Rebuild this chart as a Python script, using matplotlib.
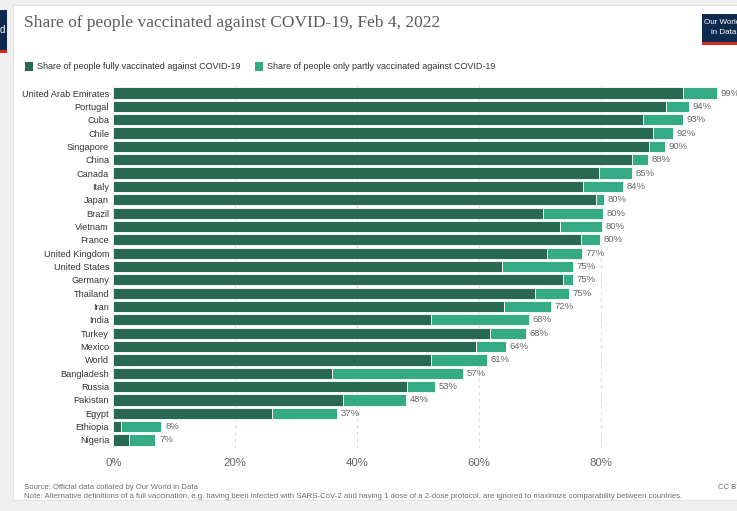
import matplotlib
matplotlib.use("Agg")
import matplotlib.pyplot as plt
from matplotlib.patches import Rectangle

# Daten
countries = ["United Arab Emirates", "Portugal", "Cuba", "Chile", "Singapore", "China",
             "Canada", "Italy", "Japan", "Brazil", "Vietnam", "France", "United Kingdom",
             "United States", "Germany", "Thailand", "Iran", "India", "Turkey", "Mexico",
             "World", "Bangladesh", "Russia", "Pakistan", "Egypt", "Ethiopia", "Nigeria"]
fully = [93.4, 90.6, 86.9, 88.5, 87.8, 85.0, 79.6, 77.0, 79.2, 70.4, 73.3, 76.6, 71.1,
         63.8, 73.7, 69.2, 64.0, 52.0, 61.7, 59.5, 52.1, 35.9, 48.1, 37.6, 26.0, 1.3, 2.5]
total = [99.0, 94.3, 93.4, 91.8, 90.4, 87.7, 85.1, 83.6, 80.4, 80.2, 80.1, 79.8, 76.8,
         75.4, 75.3, 74.7, 71.8, 68.1, 67.6, 64.3, 61.3, 57.4, 52.7, 48.0, 36.7, 7.9, 6.9]
total_labels = ["99%", "94%", "93%", "92%", "90%", "88%", "85%", "84%", "80%", "80%",
                "80%", "80%", "77%", "75%", "75%", "75%", "72%", "68%", "68%", "64%",
                "61%", "57%", "53%", "48%", "37%", "8%", "7%"]
xticks = [0, 20, 40, 60, 80]
xtick_labels = ["0%", "20%", "40%", "60%", "80%"]

partly = [t - f for t, f in zip(total, fully)]

dunkel = "#2a6951"
hell = "#34ab84"
sans = ["Liberation Sans", "DejaVu Sans"]

W, H = 737, 511
fig = plt.figure(figsize=(W / 100, H / 100), dpi=100)
fig.patch.set_facecolor("#f0f0f0")

# weisser Hintergrund-Bereich
fig.patches.append(Rectangle((13 / W, 1 - 500 / H), 1, (500 - 5) / H,
                             transform=fig.transFigure, facecolor="white",
                             edgecolor="#e4e4e4", lw=0.8, zorder=-5))
# Logo-Reste links und rechts
fig.patches.append(Rectangle((0, 1 - 50 / H), 7 / W, 40 / H, transform=fig.transFigure,
                             facecolor="#0f2a4f", zorder=-4))
fig.patches.append(Rectangle((0, 1 - 53 / H), 7 / W, 3 / H, transform=fig.transFigure,
                             facecolor="#d42b21", zorder=-4))
fig.text(0 / W, 1 - 30 / H, "d", color="white", fontsize=7, family=sans, va="center")
fig.patches.append(Rectangle((702 / W, 1 - 42 / H), 40 / W, 28 / H, transform=fig.transFigure,
                             facecolor="#0f2a4f", zorder=-4))
fig.patches.append(Rectangle((702 / W, 1 - 45 / H), 40 / W, 3 / H, transform=fig.transFigure,
                             facecolor="#d42b21", zorder=-4))
fig.text(704 / W, 1 - 22 / H, "Our World", color="white", fontsize=5.8, family=sans, va="center")
fig.text(711 / W, 1 - 33 / H, "in Data", color="white", fontsize=5.8, family=sans, va="center")

# Titel
fig.text(24 / W, 1 - 23 / H, "Share of people vaccinated against COVID-19, Feb 4, 2022",
         family=["Liberation Serif", "DejaVu Serif"], fontsize=12.5, color="#5b5b5b", va="center")

# Legende
fig.patches.append(Rectangle((25 / W, 1 - 71 / H), 8 / W, 9 / H, transform=fig.transFigure,
                             facecolor=dunkel))
fig.text(37 / W, 1 - 66.5 / H, "Share of people fully vaccinated against COVID-19",
         family=sans, fontsize=6.5, color="#333333", va="center")
fig.patches.append(Rectangle((255 / W, 1 - 71 / H), 8 / W, 9 / H, transform=fig.transFigure,
                             facecolor=hell))
fig.text(267 / W, 1 - 66.5 / H, "Share of people only partly vaccinated against COVID-19",
         family=sans, fontsize=6.5, color="#333333", va="center")

# Achse
ax = fig.add_axes([113.3 / W, 1 - 448 / H, (723.3 - 113.3) / W, (448 - 85) / H])
ax.set_facecolor("none")
y = list(range(len(countries)))
ax.barh(y, fully, height=0.84, color=dunkel, edgecolor="white", linewidth=0.6, zorder=2)
ax.barh(y, partly, left=fully, height=0.84, color=hell, edgecolor="white", linewidth=0.6, zorder=2)
for yi, t, lab in zip(y, total, total_labels):
    ax.text(t + 0.6, yi, lab, va="center", ha="left", family=sans, fontsize=6.8,
            color="#666666", clip_on=False)

ax.set_xlim(0, 100)
ax.set_ylim(len(countries) - 0.4, -0.6)
ax.set_yticks(y)
ax.set_yticklabels(countries, family=sans, fontsize=6.6, color="#333333")
ax.set_xticks(xticks)
ax.set_xticklabels(xtick_labels, family=sans, fontsize=8.2, color="#666666")
ax.tick_params(axis="both", length=0)
ax.tick_params(axis="x", pad=7)
ax.tick_params(axis="y", pad=3)
ax.grid(axis="x", color="#dddddd", linestyle=(0, (3, 3)), linewidth=0.8, zorder=0)
ax.set_axisbelow(True)
for s in ax.spines.values():
    s.set_visible(False)

# Fusszeile
fig.text(24 / W, 1 - 487 / H, "Source: Official data collated by Our World in Data",
         family=sans, fontsize=5.6, color="#6e6e6e", va="center")
fig.text(24 / W, 1 - 496 / H,
         "Note: Alternative definitions of a full vaccination, e.g. having been infected with "
         "SARS-CoV-2 and having 1 dose of a 2-dose protocol, are ignored to maximize "
         "comparability between countries.",
         family=sans, fontsize=5.6, color="#6e6e6e", va="center")
fig.text(718 / W, 1 - 487 / H, "CC BY", family=sans, fontsize=5.6, color="#6e6e6e", va="center")

fig.savefig("out.png", dpi=100)
